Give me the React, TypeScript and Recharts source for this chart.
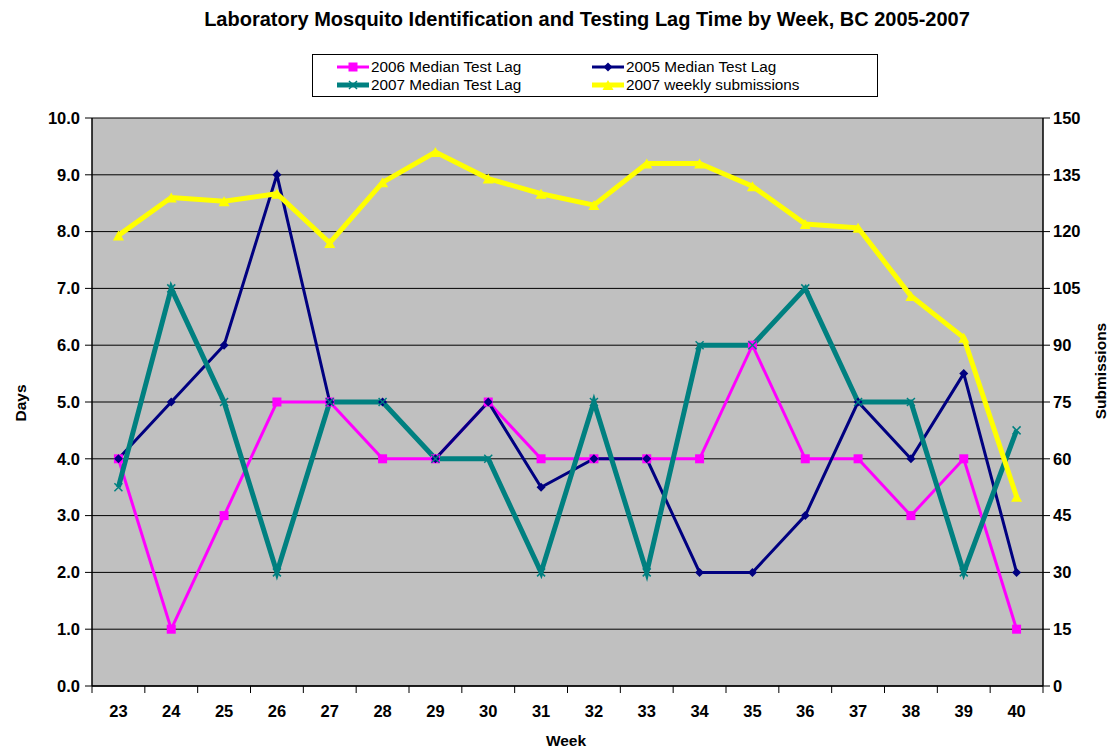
import React from 'react';
import { LineChart, Line, XAxis, YAxis, CartesianGrid } from 'recharts';

const weeks = [23, 24, 25, 26, 27, 28, 29, 30, 31, 32, 33, 34, 35, 36, 37, 38, 39, 40];
const lag2006 = [4, 1, 3, 5, 5, 4, 4, 5, 4, 4, 4, 4, 6, 4, 4, 3, 4, 1];
const lag2005 = [4, 5, 6, 9, 5, 5, 4, 5, 3.5, 4, 4, 2, 2, 3, 5, 4, 5.5, 2];
const lag2007 = [3.5, 7, 5, 2, 5, 5, 4, 4, 2, 5, 2, 6, 6, 7, 5, 5, 2, 4.5];
const subs2007 = [119, 129, 128, 130, 117, 133, 141, 134, 130, 127, 138, 138, 132, 122, 121, 103, 92, 50];

const leftTicks = [0, 1, 2, 3, 4, 5, 6, 7, 8, 9, 10];
const rightTicks = [0, 15, 30, 45, 60, 75, 90, 105, 120, 135, 150];
const boundaryTicks = [22.5, 23.5, 24.5, 25.5, 26.5, 27.5, 28.5, 29.5, 30.5, 31.5, 32.5, 33.5, 34.5, 35.5, 36.5, 37.5, 38.5, 39.5, 40.5];

const data = weeks.map((w, i) => ({
  week: w,
  l2006: lag2006[i],
  l2005: lag2005[i],
  l2007: lag2007[i],
  s2007: subs2007[i],
}));

const FONT = '"Liberation Sans", Arial, sans-serif';
const MAGENTA = '#FF00FF';
const NAVY = '#000080';
const TEAL = '#008080';
const YELLOW = '#FFFF00';
const TICK_FONT = 16.5;

const squareDot = (p: any) => (
  <rect key={`sq-${p.index}`} x={p.cx - 4.5} y={p.cy - 4.5} width={9} height={9} fill={MAGENTA} />
);
const diamondDot = (p: any) => (
  <path key={`dm-${p.index}`} d={`M${p.cx},${p.cy - 4.5}L${p.cx + 4.5},${p.cy}L${p.cx},${p.cy + 4.5}L${p.cx - 4.5},${p.cy}Z`} fill={NAVY} />
);
const crossDot = (p: any) => (
  <path key={`cr-${p.index}`} d={`M${p.cx - 4},${p.cy - 4}L${p.cx + 4},${p.cy + 4}M${p.cx + 4},${p.cy - 4}L${p.cx - 4},${p.cy + 4}`} stroke={TEAL} strokeWidth={1.5} fill="none" />
);
const triDot = (p: any) => (
  <path key={`tr-${p.index}`} d={`M${p.cx},${p.cy - 5}L${p.cx + 5.5},${p.cy + 5}L${p.cx - 5.5},${p.cy + 5}Z`} fill={YELLOW} />
);

const legendItems = [
  { label: '2006 Median Test Lag', color: MAGENTA, width: 3, marker: 'square' },
  { label: '2005 Median Test Lag', color: NAVY, width: 3, marker: 'diamond' },
  { label: '2007 Median Test Lag', color: TEAL, width: 5, marker: 'cross' },
  { label: '2007 weekly submissions', color: YELLOW, width: 5, marker: 'tri' },
];

function Sample({ color, width, marker }: { color: string; width: number; marker: string }) {
  return (
    <svg width={34} height={12} style={{ display: 'block' }}>
      <line x1={1} y1={6} x2={33} y2={6} stroke={color} strokeWidth={width} />
      {marker === 'square' && <rect x={12.5} y={1.5} width={9} height={9} fill={color} />}
      {marker === 'diamond' && <path d="M17,1.5L21.5,6L17,10.5L12.5,6Z" fill={color} />}
      {marker === 'cross' && <path d="M13,2L21,10M21,2L13,10" stroke={color} strokeWidth={1.5} />}
      {marker === 'tri' && <path d="M17,1L22.5,11L11.5,11Z" fill={color} />}
    </svg>
  );
}

export default function App() {
  return (
    <div style={{ position: 'relative', width: 1108, height: 748, fontFamily: FONT, background: '#fff', overflow: 'hidden' }}>
      <style>{'html,body{margin:0;padding:0;overflow:hidden;}'}</style>
      <div style={{ position: 'absolute', left: 87, top: 8, width: 1000, textAlign: 'center', fontWeight: 'bold', fontSize: 20, lineHeight: '23px', color: '#000' }}>
        Laboratory Mosquito Identification and Testing Lag Time by Week, BC 2005-2007
      </div>
      <LineChart width={1108} height={748} data={data} margin={{ top: 118, right: 0, bottom: 0, left: 0 }}>
        <CartesianGrid xAxisId="grid" yAxisId="left" vertical={false} stroke="#000" strokeOpacity={1} fill="#C0C0C0" fillOpacity={1} />
        <XAxis
          xAxisId="grid"
          type="number"
          dataKey="week"
          domain={[22.5, 40.5]}
          ticks={boundaryTicks}
          tickFormatter={() => ''}
          tickSize={7}
          height={1}
          stroke="#000"
          tickLine={{ stroke: '#000' }}
          axisLine={{ stroke: '#000', strokeWidth: 1.5 }}
          allowDataOverflow
        />
        <XAxis
          xAxisId="main"
          type="number"
          dataKey="week"
          domain={[22.5, 40.5]}
          ticks={weeks}
          height={61}
          axisLine={false}
          tickLine={false}
          tickSize={0}
          tickMargin={18}
          tick={{ fill: '#000', fontSize: TICK_FONT, fontWeight: 'bold', fontFamily: FONT }}
          interval={0}
          allowDataOverflow
        />
        <YAxis
          yAxisId="left"
          orientation="left"
          width={92}
          domain={[0, 10]}
          ticks={leftTicks}
          tickFormatter={(v: number) => v.toFixed(1)}
          tickSize={7}
          tickMargin={5}
          axisLine={{ stroke: '#000', strokeWidth: 1.5 }}
          tickLine={{ stroke: '#000' }}
          tick={{ fill: '#000', fontSize: TICK_FONT, fontWeight: 'bold', fontFamily: FONT }}
          interval={0}
        />
        <YAxis
          yAxisId="right"
          orientation="right"
          width={65}
          domain={[0, 150]}
          ticks={rightTicks}
          tickSize={7}
          tickMargin={3}
          axisLine={{ stroke: '#000', strokeWidth: 1.5 }}
          tickLine={{ stroke: '#000' }}
          tick={{ fill: '#000', fontSize: TICK_FONT, fontWeight: 'bold', fontFamily: FONT, textAnchor: 'start' }}
          interval={0}
        />
        <Line xAxisId="main" yAxisId="left" dataKey="l2006" stroke={MAGENTA} strokeWidth={3} dot={squareDot} activeDot={false} isAnimationActive={false} />
        <Line xAxisId="main" yAxisId="left" dataKey="l2005" stroke={NAVY} strokeWidth={3} dot={diamondDot} activeDot={false} isAnimationActive={false} />
        <Line xAxisId="main" yAxisId="left" dataKey="l2007" stroke={TEAL} strokeWidth={5} dot={crossDot} activeDot={false} isAnimationActive={false} />
        <Line xAxisId="main" yAxisId="right" dataKey="s2007" stroke={YELLOW} strokeWidth={5} dot={triDot} activeDot={false} isAnimationActive={false} />
      </LineChart>
      <div style={{ position: 'absolute', left: 312, top: 54, width: 564, height: 41, border: '1px solid #000', background: '#fff' }}>
        {legendItems.map((it, i) => (
          <div
            key={it.label}
            style={{
              position: 'absolute',
              left: i % 2 === 0 ? 23 : 278,
              top: i < 2 ? 3 : 21,
              display: 'flex',
              alignItems: 'center',
              fontSize: 15.3,
              lineHeight: '17px',
              color: '#000',
              whiteSpace: 'nowrap',
            }}
          >
            <Sample color={it.color} width={it.width} marker={it.marker} />
            <span style={{ marginLeft: 1 }}>{it.label}</span>
          </div>
        ))}
      </div>
      <svg width={1108} height={748} style={{ position: 'absolute', left: 0, top: 0, pointerEvents: 'none' }}>
        <text x={0} y={0} transform="translate(25.5,403) rotate(-90)" textAnchor="middle" fontFamily={FONT} fontWeight="bold" fontSize={15.5} fill="#000">
          Days
        </text>
        <text x={0} y={0} transform="translate(1105.5,371) rotate(-90)" textAnchor="middle" fontFamily={FONT} fontWeight="bold" fontSize={15.5} fill="#000">
          Submissions
        </text>
        <text x={566} y={746} textAnchor="middle" fontFamily={FONT} fontWeight="bold" fontSize={15.5} fill="#000">
          Week
        </text>
      </svg>
    </div>
  );
}
